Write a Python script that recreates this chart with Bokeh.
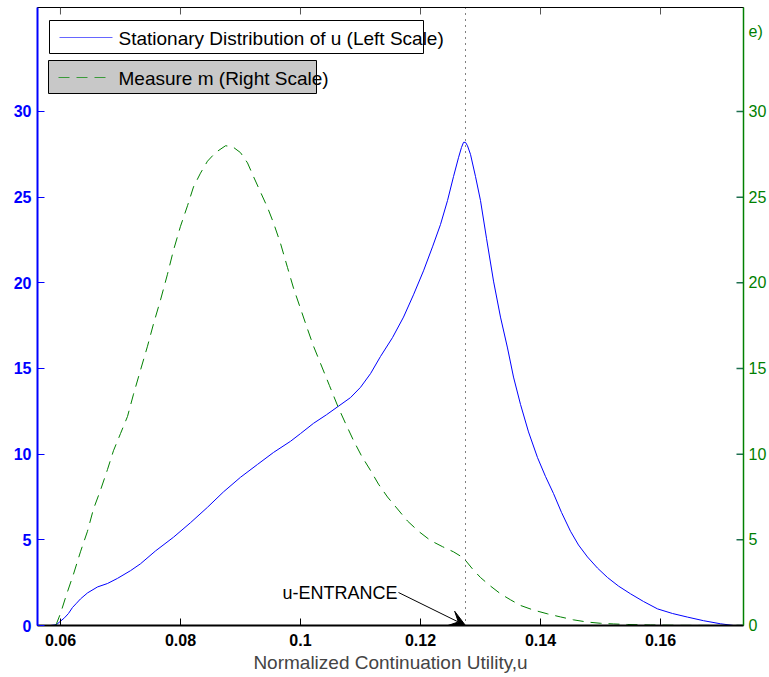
from bokeh.plotting import figure
from bokeh.models import (Range1d, LinearAxis, FixedTicker, BoxAnnotation, Label,
                          Span, Arrow, VeeHead)
from bokeh.embed import file_html
from bokeh.resources import INLINE

# ---------------- data ----------------
u_stationary = [0.0562, 0.05833, 0.05933, 0.0600, 0.06067, 0.06133, 0.0620, 0.06267, 0.06333,
                0.0645, 0.06617, 0.06783, 0.0695, 0.07167, 0.07333, 0.07583, 0.07883, 0.08167,
                0.0845, 0.08717, 0.0900, 0.09283, 0.0955, 0.09833, 0.1000, 0.10217, 0.10433,
                0.10633, 0.10833, 0.1100, 0.11167, 0.11333, 0.11533, 0.11717, 0.11883, 0.1205,
                0.1220, 0.12333, 0.1245, 0.1255, 0.12633, 0.12683, 0.12717, 0.1275, 0.12783,
                0.12833, 0.12917, 0.1300, 0.1310, 0.13217, 0.13333, 0.1345, 0.1355, 0.13667,
                0.1380, 0.1395, 0.14083, 0.14217, 0.1435, 0.1450, 0.14633, 0.14783, 0.1495,
                0.15117, 0.1530, 0.1550, 0.15717, 0.1595, 0.1620, 0.1645, 0.16717, 0.1700,
                0.17217, 0.17383]
stationary = [0.0, 0.0, 0.05, 0.25, 0.45, 0.7, 1.05, 1.3, 1.55,
              1.9, 2.25, 2.45, 2.75, 3.2, 3.6, 4.35, 5.15, 6.0,
              6.9, 7.8, 8.65, 9.4, 10.1, 10.75, 11.2, 11.8, 12.3,
              12.8, 13.3, 13.9, 14.7, 15.7, 16.8, 18.0, 19.3, 20.7,
              22.1, 23.4, 24.8, 26.2, 27.3, 27.9, 28.2, 28.2, 28.0,
              27.5, 26.2, 24.8, 22.6, 20.1, 18.0, 16.2, 14.5, 12.9,
              11.3, 9.8, 8.7, 7.7, 6.6, 5.5, 4.7, 4.0, 3.35,
              2.8, 2.3, 1.85, 1.4, 0.97, 0.7, 0.49, 0.28, 0.1,
              0.0, 0.0]

u_measure = [0.0562, 0.05917, 0.05933, 0.0600, 0.0610, 0.06217, 0.06333, 0.0645, 0.0655,
             0.06667, 0.06783, 0.06883, 0.0700, 0.07117, 0.07217, 0.07333, 0.0745, 0.0755,
             0.07667, 0.07783, 0.07883, 0.0800, 0.08117, 0.08217, 0.08333, 0.0845, 0.08583,
             0.0875, 0.08867, 0.0900, 0.09117, 0.09217, 0.09333, 0.0945, 0.0955, 0.09667,
             0.09783, 0.09883, 0.1000, 0.10117, 0.10217, 0.10333, 0.10483, 0.10633, 0.1075,
             0.10883, 0.11017, 0.11167, 0.1130, 0.1145, 0.11617, 0.11783, 0.11967, 0.12167,
             0.12367, 0.1255, 0.12667, 0.1275, 0.12867, 0.1300, 0.13167, 0.13333, 0.1350,
             0.13667, 0.13883, 0.14117, 0.14333, 0.1455, 0.14783, 0.1500, 0.15217, 0.1545,
             0.15833, 0.16333, 0.17383]
measure = [0.0, 0.0, 0.1, 0.7, 1.8, 3.0, 4.3, 5.5, 6.8,
           7.9, 9.1, 10.2, 11.2, 12.2, 13.5, 14.9, 16.3, 17.6,
           19.0, 20.5, 21.9, 23.3, 24.5, 25.6, 26.4, 27.1, 27.6,
           28.0, 27.95, 27.6, 27.0, 26.2, 25.3, 24.4, 23.5, 22.3,
           20.9, 19.7, 18.5, 17.3, 16.3, 15.3, 14.0, 12.7, 11.8,
           10.8, 9.9, 9.05, 8.25, 7.5, 6.8, 6.1, 5.5, 4.96,
           4.6, 4.3, 4.05, 3.8, 3.3, 2.8, 2.3, 1.85, 1.5,
           1.17, 0.9, 0.68, 0.5, 0.33, 0.2, 0.13, 0.09, 0.06,
           0.03, 0.01, 0.0]

u_entrance = 0.1275
x_ticks = [0.06, 0.08, 0.10, 0.12, 0.14, 0.16]
x_tick_labels = ["0.06", "0.08", "0.1", "0.12", "0.14", "0.16"]
y_ticks = [0, 5, 10, 15, 20, 25, 30]
legend_labels = ["Stationary Distribution of u (Left Scale)", "Measure m (Right Scale)"]
x_label = "Normalized Continuation Utility,u"
entrance_label = "u-ENTRANCE"
edge_fragment = "e)"          # clipped legend remnant beside the right scale
edge_fragment_level = 34.65   # its height on the right scale

# ---------------- figure ----------------
X0, X1 = 0.05617, 0.17383
Y1 = 36.07
BLUE = "#0000ff"
GREEN = "#008000"
FONT = "Liberation Sans"

# frame: window x 37..743, y 7..625
p = figure(width=769, height=677, x_range=Range1d(X0, X1), y_range=Range1d(0, Y1),
           x_axis_type=None, y_axis_type=None, output_backend="svg",
           toolbar_location=None, min_border_left=37, min_border_right=26,
           min_border_top=7, min_border_bottom=52)
p.extra_y_ranges = {"right": Range1d(0, Y1)}
p.outline_line_color = "black"
p.outline_line_width = 1
p.background_fill_color = "white"


def style_axis(ax, color, label_color, bold, width):
    ax.axis_line_color = color
    ax.axis_line_width = width
    ax.major_tick_line_color = color
    ax.major_tick_in = 7
    ax.major_tick_out = 0
    ax.minor_tick_line_color = None
    ax.major_label_text_color = label_color
    ax.major_label_text_font = FONT
    ax.major_label_text_font_size = "16px"
    ax.major_label_text_font_style = "bold" if bold else "normal"


xb = LinearAxis(ticker=FixedTicker(ticks=x_ticks),
                major_label_overrides={t: s for t, s in zip(x_ticks, x_tick_labels)})
style_axis(xb, "black", "black", True, 2)
xb.major_label_standoff = 8
xb.axis_label = x_label
xb.axis_label_text_font = FONT
xb.axis_label_text_font_size = "19px"
xb.axis_label_text_font_style = "normal"
xb.axis_label_standoff = 3
p.add_layout(xb, "below")

yl = LinearAxis(ticker=FixedTicker(ticks=y_ticks))
style_axis(yl, BLUE, BLUE, True, 2)
yl.major_label_standoff = 6
p.add_layout(yl, "left")

yr = LinearAxis(ticker=FixedTicker(ticks=y_ticks + [edge_fragment_level]),
                major_label_overrides={edge_fragment_level: edge_fragment},
                y_range_name="right")
style_axis(yr, GREEN, GREEN, False, 1.5)
yr.major_tick_line_color = None
yr.major_label_standoff = 5
p.add_layout(yr, "right")

# inward ticks on the top edge (x ticks) and the right edge (y ticks)
tick_h = 7 * Y1 / 618.0
tick_w = 7 * (X1 - X0) / 706.0
p.segment(x0=x_ticks, y0=[Y1] * len(x_ticks), x1=x_ticks,
          y1=[Y1 - tick_h] * len(x_ticks), line_color="#555555", line_width=1)
p.segment(x0=[X1] * len(y_ticks), y0=y_ticks, x1=[X1 - tick_w] * len(y_ticks),
          y1=y_ticks, line_color="#1f6f4f", line_width=1.5, y_range_name="right")

# ---------------- curves ----------------
p.line(u_stationary, stationary, line_color=BLUE, line_width=1)
p.line(u_measure, measure, line_color=GREEN, line_width=1, line_dash="11 7",
       y_range_name="right")

p.add_layout(Span(location=u_entrance, dimension="height", line_color="black",
                  line_width=1, line_dash="1 5"))


# pixel helpers for annotations (window px -> data)
def wx(px):
    return X0 + (px - 37) * (X1 - X0) / 706.0


def wy(py):
    return Y1 * (625 - py) / 618.0


# entrance arrow + label
p.add_layout(Arrow(end=VeeHead(size=16, fill_color="black", line_color="black"),
                   x_start=wx(398), y_start=wy(592), x_end=u_entrance, y_end=0,
                   line_color="black", line_width=1))
p.add_layout(Label(x=wx(282), y=wy(592), text=entrance_label, text_font=FONT,
                   text_font_size="18px", text_baseline="alphabetic", text_color="black"))

# legends (MATLAB-style boxes)
p.add_layout(BoxAnnotation(left=wx(49), right=wx(423), top=wy(20), bottom=wy(53),
                           fill_color="white", fill_alpha=1, line_color="black",
                           line_width=1, line_alpha=1))
r1 = p.line([wx(59), wx(112)], [wy(37), wy(37)], line_color="#6666ff", line_width=1)
r1.level = "overlay"
p.add_layout(Label(x=wx(118), y=wy(38), text=legend_labels[0], text_font=FONT,
                   text_font_size="19px", text_baseline="middle", text_color="black"))

p.add_layout(BoxAnnotation(left=wx(48), right=wx(316), top=wy(60), bottom=wy(93),
                           fill_color="#c8c8c8", fill_alpha=1, line_color="black",
                           line_width=1, line_alpha=1))
r2 = p.line([wx(58), wx(112)], [wy(77), wy(77)], line_color="#3a9a3a", line_width=1,
            line_dash="11 7")
r2.level = "overlay"
p.add_layout(Label(x=wx(118), y=wy(78), text=legend_labels[1], text_font=FONT,
                   text_font_size="19px", text_baseline="middle", text_color="black"))

open("out.html", "w").write(file_html(p, INLINE))
